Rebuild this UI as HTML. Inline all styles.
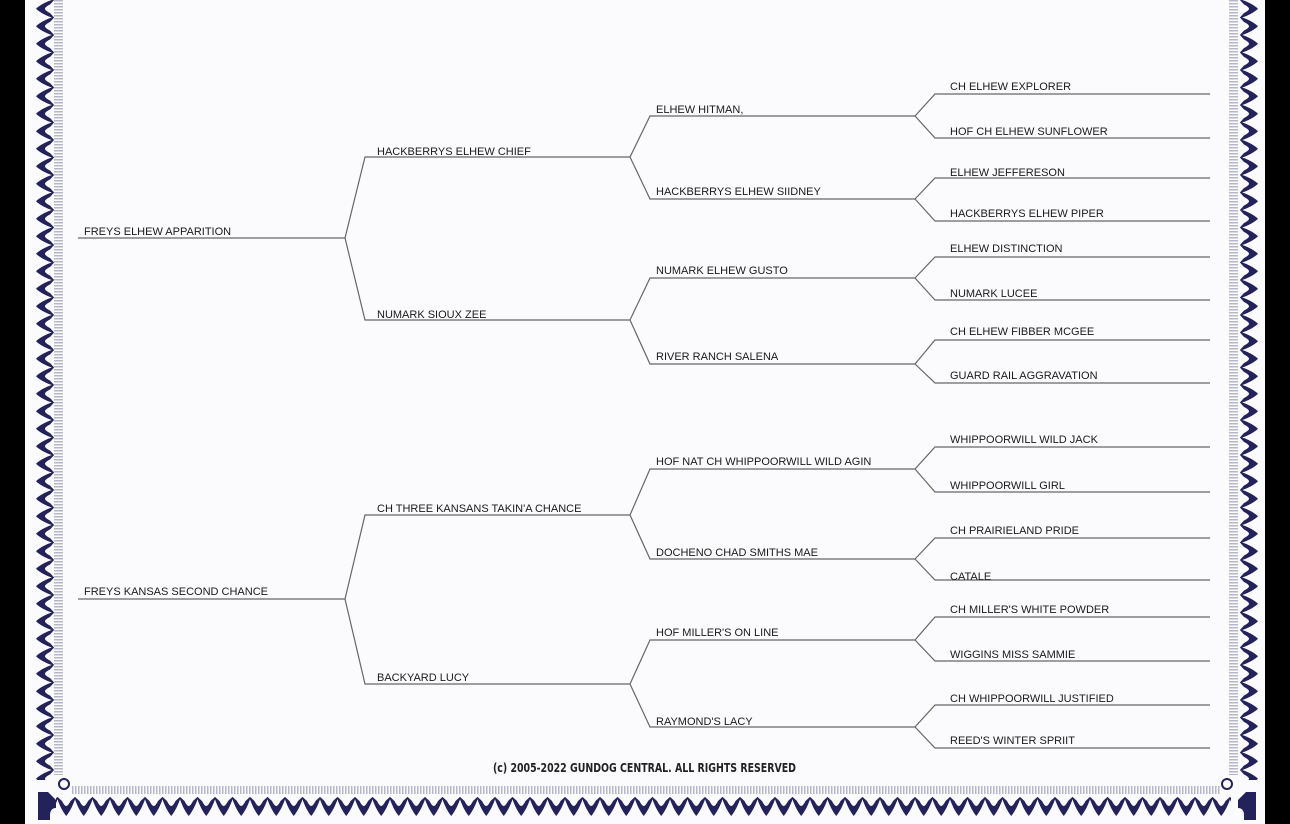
<!DOCTYPE html>
<html><head><meta charset="utf-8"><style>
html,body{margin:0;padding:0;background:#000;}
body{width:1290px;height:824px;overflow:hidden;position:relative;}
svg{position:absolute;left:0;top:0;}
text{font-family:"Liberation Sans",Arial,sans-serif;font-size:11px;fill:#1a1a1a;}
.c{font-family:"DejaVu Sans Condensed","Liberation Sans",sans-serif;font-weight:bold;font-size:12.5px;fill:#222;}
</style></head><body>
<svg width="1290" height="824" viewBox="0 0 1290 824">
<defs>
<pattern id="lb" x="30" y="0" width="30" height="17.5" patternUnits="userSpaceOnUse">
<path d="M25 -1 C18 1 11 4 6 8.75 C11 13.5 18 16.5 25 18.5 L20 13 C17 11.5 15 10 15 8.75 C15 7.5 17 6 20 4.5 Z" fill="#23225a"/>
</pattern>
<pattern id="rb" x="1234" y="0" width="30" height="17.5" patternUnits="userSpaceOnUse">
<path d="M5 -1 C12 1 19 4 24 8.75 C19 13.5 12 16.5 5 18.5 L10 13 C13 11.5 15 10 15 8.75 C15 7.5 13 6 10 4.5 Z" fill="#23225a"/>
</pattern>
<pattern id="bb" x="40" y="794" width="17.5" height="30" patternUnits="userSpaceOnUse">
<path d="M-1 2 C1 9 4 16 8.75 22 C13.5 16 16.5 9 18.5 2 L13 7 C11.5 10 10 12 8.75 12 C7.5 12 6 10 4.5 7 Z" fill="#23225a"/>
</pattern>
<pattern id="tk" width="3" height="3" patternUnits="userSpaceOnUse"><rect width="1.5" height="3" fill="#8a8aa8"/></pattern>
<pattern id="tkv" width="3" height="3" patternUnits="userSpaceOnUse"><rect width="3" height="1.5" fill="#8a8aa8"/></pattern>
</defs>
<rect x="25" y="0" width="1240" height="824" fill="#fbfbfe"/>
<rect x="30" y="0" width="30" height="780" fill="url(#lb)"/>
<rect x="54" y="0" width="9" height="775" fill="url(#tkv)" opacity="0.6"/>
<rect x="1234" y="0" width="30" height="780" fill="url(#rb)"/>
<rect x="1229" y="0" width="9" height="775" fill="url(#tkv)" opacity="0.6"/>
<rect x="56" y="794" width="1175" height="30" fill="url(#bb)"/>
<rect x="72" y="786" width="1148" height="8" fill="url(#tk)" opacity="0.6"/>
<circle cx="64" cy="784" r="5" fill="none" stroke="#23225a" stroke-width="2"/>
<circle cx="1227" cy="784" r="5" fill="none" stroke="#23225a" stroke-width="2"/>
<path d="M38 792 h10 l8 8 v8 c-4 0-6 3-6 7 v5 h-12 z" fill="#23225a"/>
<path d="M1256 792 h-10 l-8 8 v8 c4 0 6 3 6 7 v5 h12 z" fill="#23225a"/>

<g fill="none" stroke="#666" stroke-width="1.2">
<path d="M78 238H345L365 157H630M345 238L365 320H630"/>
<path d="M78 599H345L365 515H630M345 599L365 684H630"/>
<path d="M630 157L650 116H915M630 157L650 199H915"/>
<path d="M630 320L650 278H915M630 320L650 364H915"/>
<path d="M630 515L650 469H915M630 515L650 559H915"/>
<path d="M630 684L650 640H915M630 684L650 727H915"/>
<path d="M915 116L935 94H1210M915 116L935 138H1210"/>
<path d="M915 199L935 178H1210M915 199L935 221H1210"/>
<path d="M915 278L935 257H1210M915 278L935 300H1210"/>
<path d="M915 364L935 340H1210M915 364L935 383H1210"/>
<path d="M915 469L935 447H1210M915 469L935 492H1210"/>
<path d="M915 559L935 538H1210M915 559L935 580H1210"/>
<path d="M915 640L935 617H1210M915 640L935 661H1210"/>
<path d="M915 727L935 705H1210M915 727L935 748H1210"/>
</g>
<text x="84" y="235">FREYS ELHEW APPARITION</text>
<text x="84" y="595">FREYS KANSAS SECOND CHANCE</text>
<text x="377" y="155">HACKBERRYS ELHEW CHIEF</text>
<text x="377" y="318">NUMARK SIOUX ZEE</text>
<text x="377" y="512">CH THREE KANSANS TAKIN'A CHANCE</text>
<text x="377" y="681">BACKYARD LUCY</text>
<text x="656" y="113">ELHEW HITMAN,</text>
<text x="656" y="195">HACKBERRYS ELHEW SIIDNEY</text>
<text x="656" y="274">NUMARK ELHEW GUSTO</text>
<text x="656" y="360">RIVER RANCH SALENA</text>
<text x="656" y="465">HOF NAT CH WHIPPOORWILL WILD AGIN</text>
<text x="656" y="556">DOCHENO CHAD SMITHS MAE</text>
<text x="656" y="636">HOF MILLER'S ON LINE</text>
<text x="656" y="725">RAYMOND'S LACY</text>
<text x="950" y="90">CH ELHEW EXPLORER</text>
<text x="950" y="135">HOF CH ELHEW SUNFLOWER</text>
<text x="950" y="176">ELHEW JEFFERESON</text>
<text x="950" y="217">HACKBERRYS ELHEW PIPER</text>
<text x="950" y="252">ELHEW DISTINCTION</text>
<text x="950" y="297">NUMARK LUCEE</text>
<text x="950" y="335">CH ELHEW FIBBER MCGEE</text>
<text x="950" y="379">GUARD RAIL AGGRAVATION</text>
<text x="950" y="443">WHIPPOORWILL WILD JACK</text>
<text x="950" y="489">WHIPPOORWILL GIRL</text>
<text x="950" y="534">CH PRAIRIELAND PRIDE</text>
<text x="950" y="580">CATALE</text>
<text x="950" y="613">CH MILLER'S  WHITE POWDER</text>
<text x="950" y="658">WIGGINS MISS SAMMIE</text>
<text x="950" y="702">CH WHIPPOORWILL JUSTIFIED</text>
<text x="950" y="744">REED'S WINTER SPRIIT</text>
<text class="c" x="493" y="772" textLength="303" lengthAdjust="spacingAndGlyphs">(c) 2005-2022 GUNDOG CENTRAL. ALL RIGHTS RESERVED</text>
</svg>
</body></html>
